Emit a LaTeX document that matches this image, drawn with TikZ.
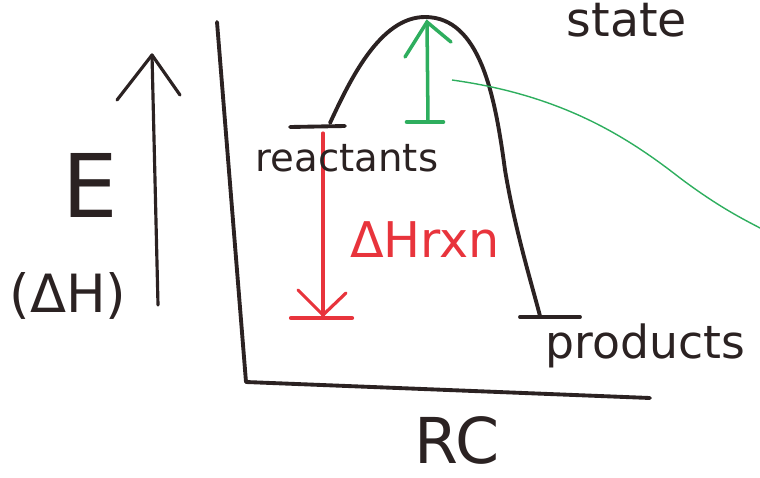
\documentclass[tikz,border=0pt]{standalone}
\usepackage{fontspec}
\setmainfont{DejaVu Sans}
\usepackage{tikz}

\definecolor{pen}{HTML}{2B2222}
\definecolor{redpen}{HTML}{E8343C}
\definecolor{greenpen}{HTML}{2EAE5E}

\tikzset{
    ink/.style = {pen, line width = 2.2pt, line cap = round, line join = round},
    label/.style = {pen, inner sep = 0pt},
}

\begin{document}
\begin{tikzpicture}[x = 0.02cm, y = -0.02cm]
        \useasboundingbox (0, 0) rectangle (760, 477);

        % axes
        \coordinate (top) at (217, 22);
        \coordinate (origin) at (246, 382);
        \coordinate (right) at (650, 398);
        \draw[ink] (top) -- (origin) -- (right);

        % energy arrow
        \coordinate (Ebot) at (158, 305);
        \coordinate (Etip) at (152, 55);
        \coordinate (Eleft) at (117, 100);
        \coordinate (Eright) at (180, 95);
        \draw[ink, line width = 1.8pt] (Ebot) -- (Etip);
        \draw[ink, line width = 1.8pt] (Eleft) -- (Etip) -- (Eright);

        % levels
        \coordinate (rA) at (290, 127);
        \coordinate (rB) at (345, 126);
        \coordinate (pA) at (520, 317);
        \coordinate (pB) at (580, 317);
        \draw[ink] (rA) -- (rB);
        \draw[ink] (pA) -- (pB);

        % reaction path
        \coordinate (start) at (330, 123);
        \coordinate (peak) at (425, 17);
        \coordinate (fall) at (505, 170);
        \coordinate (stop) at (540, 316);
        \draw[ink] (start) .. controls (350, 80) and (380, 17) .. (peak)
            .. controls (480, 17) and (495, 95) .. (fall)
            .. controls (515, 230) and (532, 285) .. (stop);

        % activation energy
        \coordinate (gBot) at (428, 122);
        \coordinate (gTip) at (427, 22);
        \draw[greenpen, line width = 2pt, line cap = round] (gBot) -- (gTip);
        \draw[greenpen, line width = 2pt, line cap = round] (405, 57) -- (gTip) -- (451, 42);
        \draw[greenpen, line width = 2.6pt, line cap = round] (407, 122) -- (443, 122);
        \coordinate (gFrom) at (452, 80);
        \coordinate (gTo) at (760, 228);
        \draw[greenpen, line width = 0.8pt] (gFrom) .. controls (560, 95) and (625, 135) .. (680, 178)
            .. controls (720, 208) and (745, 220) .. (gTo);

        % enthalpy change
        \coordinate (hTop) at (323, 133);
        \coordinate (hTip) at (323, 315);
        \draw[redpen, line width = 1.8pt, line cap = round] (hTop) -- (hTip);
        \draw[redpen, line width = 1.8pt, line cap = round] (298, 290) -- (hTip) -- (346, 293);
        \draw[redpen, line width = 2.4pt, line cap = round] (291, 318) -- (352, 318);

        % labels
        \node[label] (state) at (627, 20) {\fontsize{27}{27}\selectfont state};
        \node[label] (reactants) at (347, 158) {\fontsize{22}{22}\selectfont reactants};
        \node[label] (products) at (645, 346) {\fontsize{26}{26}\selectfont products};
        \node[label, redpen] (dH) at (425, 240) {\fontsize{28}{28}\selectfont ΔHrxn};
        \node[label] (E) at (90, 185) {\fontsize{50}{50}\selectfont E};
        \node[label] (dHaxis) at (68, 296) {\fontsize{30}{30}\selectfont (ΔH)};
        \node[label] (RC) at (457, 440) {\fontsize{36}{36}\selectfont RC};
    \end{tikzpicture}
\end{document}
